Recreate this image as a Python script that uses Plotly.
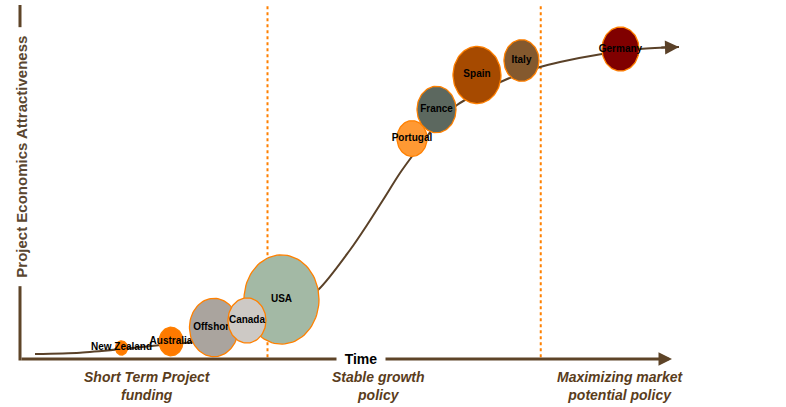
import numpy as np
import plotly.graph_objects as go

# ---------------- data ----------------
countries = ["New Zealand", "Australia", "Offshore", "USA", "Canada",
             "Portugal", "France", "Spain", "Italy", "Germany"]
time_pos = [15.38, 22.88, 29.39, 39.62, 34.39, 59.39, 63.11, 69.24, 75.98, 90.98]
attract = [3.11, 4.94, 8.90, 16.81, 10.88, 62.29, 70.48, 80.23, 84.32, 87.57]
market_size = [6, 12, 24.5, 37.5, 19, 15, 19.5, 24, 17.5, 18.5]
bubble_colors = ["#ff7a00", "#ff7a00", "#aaa49e", "#a3b9a5", "#cdc9c5",
                 "#ff9933", "#5c685f", "#a64a00", "#84592e", "#800000"]

trend_x = [2.27, 9.09, 15.45, 22.73, 25.76, 33.33, 40.91, 45.15, 50.0, 52.58,
           55.0, 57.58, 59.55, 63.18, 66.21, 69.70, 73.48, 78.79, 81.82,
           88.18, 93.94, 99.85]
trend_y = [1.41, 1.78, 2.82, 4.24, 4.66, 8.19, 14.41, 19.49, 30.79, 37.85,
           44.92, 52.54, 57.63, 66.38, 71.75, 75.42, 78.81, 82.49, 83.90,
           86.16, 87.57, 88.14]

phase_labels = ["<i>Short Term Project<br>funding</i>",
                "<i>Stable growth<br>policy</i>",
                "<i>Maximizing market<br>potential policy</i>"]
phase_x = [19.32, 54.39, 91.0]
phase_bounds = [37.5, 78.9]

x_axis_end = 98.79
y_axis_end = 100

# ---------------- style ----------------
BROWN = "#5e4428"
CURVE = "#5a4128"
ORANGE = "#ff8000"
FONT = "Liberation Sans, Arial, sans-serif"
px_x = 6.6   # pixels per x unit
px_y = 3.54  # pixels per y unit

fig = go.Figure()

# trend curve
fig.add_trace(go.Scatter(x=trend_x, y=trend_y, mode="lines",
                         line=dict(color=CURVE, width=2, shape="spline", smoothing=0.8),
                         hoverinfo="skip", showlegend=False))

t = np.linspace(0, 2 * np.pi, 90)
for name, cx, cy, s, col in zip(countries, time_pos, attract, market_size, bubble_colors):
    rx = s / px_x
    ry = s * 1.19 / px_y
    fig.add_trace(go.Scatter(x=cx + rx * np.cos(t), y=cy + ry * np.sin(t),
                             mode="lines", fill="toself", fillcolor=col,
                             line=dict(color=ORANGE, width=1.3),
                             hoverinfo="skip", showlegend=False))
    fig.add_trace(go.Scatter(x=[cx], y=[cy], mode="text", text=[name],
                             textposition="middle center",
                             textfont=dict(family=FONT, size=10, color="#000000", weight="bold"),
                             hoverinfo="skip", showlegend=False))

shapes = []
# y axis line
shapes.append(dict(type="line", xref="x", yref="y", x0=0, x1=0, y0=-0.45, y1=y_axis_end,
                   line=dict(color=BROWN, width=3), layer="above"))
# dotted phase separators
for bx in phase_bounds:
    shapes.append(dict(type="line", xref="x", yref="y", x0=bx, x1=bx, y0=0.5, y1=y_axis_end,
                       line=dict(color=ORANGE, width=2, dash="dot"), layer="below"))

annotations = []
# x axis arrow
annotations.append(dict(x=x_axis_end, y=0, ax=0, ay=0, axref="x", ayref="y",
                        xref="x", yref="y", text="", showarrow=True,
                        arrowhead=2, arrowsize=0.9, arrowwidth=3, arrowcolor=BROWN))
# curve arrow tip
annotations.append(dict(x=trend_x[-1], y=trend_y[-1], ax=trend_x[-2] + 3, ay=trend_y[-2] + 0.4,
                        axref="x", ayref="y", xref="x", yref="y", text="", showarrow=True,
                        arrowhead=2, arrowsize=1.4, arrowwidth=2, arrowcolor=CURVE))
# Time label
annotations.append(dict(x=51.67, y=0, xref="x", yref="y", text="<b>Time</b>",
                        showarrow=False, bgcolor="white", borderpad=3, width=42,
                        font=dict(family=FONT, size=14, color="#000000")))
# Y title
annotations.append(dict(x=0.1, y=57.06, xref="x", yref="y",
                        text="<b>Project Economics Attractiveness</b>", textangle=-90,
                        showarrow=False, bgcolor="white", borderpad=8,
                        font=dict(family=FONT, size=15, color="#5a4630")))
# phase labels
for lab, lx in zip(phase_labels, phase_x):
    annotations.append(dict(x=lx, y=-7.63, xref="x", yref="y", text="<b>" + lab + "</b>",
                            showarrow=False, align="center",
                            font=dict(family=FONT, size=14, color="#5a3d1c")))

fig.update_layout(
    width=786, height=407,
    margin=dict(l=0, r=0, t=0, b=0),
    paper_bgcolor="white", plot_bgcolor="white",
    xaxis=dict(range=[-20 / px_x, 766 / px_x], visible=False, fixedrange=True),
    yaxis=dict(range=[-48 / px_y, 359 / px_y], visible=False, fixedrange=True),
    shapes=shapes, annotations=annotations,
    showlegend=False,
)

fig.write_html("out.html", config={"displayModeBar": False},
               post_script="document.body.style.margin='0px';document.body.style.overflow='hidden';")
